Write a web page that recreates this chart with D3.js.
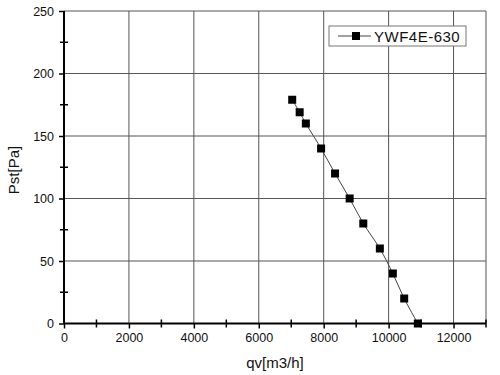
<!DOCTYPE html>
<html>
<head>
<meta charset="utf-8">
<script src="https://cdn.jsdelivr.net/npm/d3@7"></script>
<style>
  body { margin: 0; background: #fff; }
  svg text { font-family: "Liberation Sans", Arial, sans-serif; fill: #111; }
</style>
</head>
<body>
<svg width="500" height="375"></svg>
<script>
// fan curve points
const flow = [7030, 7260, 7450, 7920, 8350, 8800, 9220, 9730, 10130, 10480, 10900];
const pressure = [179, 169, 160, 140, 120, 100, 80, 60, 40, 20, 0];
const xTicks = [0, 2000, 4000, 6000, 8000, 10000, 12000];
const yTicks = [0, 50, 100, 150, 200, 250];
const seriesName = "YWF4E-630";

const svg = d3.select("svg");
const plotL = 64, plotR = 486, plotT = 11, plotB = 323.5;

const x = d3.scaleLinear().domain([0, 13000]).range([plotL, plotR]);
const y = d3.scaleLinear().domain([0, 250]).range([plotB, plotT]);

// grid
const grid = svg.append("g").attr("stroke", "#555").attr("stroke-width", 1);
grid.selectAll(".vg")
    .data(xTicks.filter(d => d > 0).concat([13000]))
    .enter().append("line")
    .attr("x1", d => x(d)).attr("x2", d => x(d))
    .attr("y1", plotT).attr("y2", plotB);
grid.selectAll(".hg")
    .data(yTicks.filter(d => d > 0))
    .enter().append("line")
    .attr("x1", plotL).attr("x2", plotR)
    .attr("y1", d => y(d)).attr("y2", d => y(d));

// axes
const xAxis = d3.axisBottom(x).tickValues(xTicks).tickFormat(d3.format("d")).tickSize(5).tickPadding(5);
const yAxis = d3.axisLeft(y).tickValues(yTicks).tickFormat(d3.format("d")).tickSize(5).tickPadding(5);

const gx = svg.append("g").attr("transform", `translate(0,${plotB})`).call(xAxis);
const gy = svg.append("g").attr("transform", `translate(${plotL},0)`).call(yAxis);
[gx, gy].forEach(g => {
    g.select(".domain").attr("stroke", "#000").attr("stroke-width", 2);
    g.selectAll(".tick line").attr("stroke", "#000").attr("stroke-width", 1.5);
    g.selectAll(".tick text").style("font-size", "12.5px").attr("fill", "#111");
});
gx.select(".domain").attr("d", `M${plotL},0H${plotR}`);
gy.select(".domain").attr("d", `M0,${plotB}V${plotT}`);

// minor ticks
svg.append("g").selectAll("line")
    .data(d3.range(1000, 13001, 2000))
    .enter().append("line")
    .attr("x1", d => x(d)).attr("x2", d => x(d))
    .attr("y1", plotB - 4).attr("y2", plotB + 4)
    .attr("stroke", "#000").attr("stroke-width", 1.5);
svg.append("g").selectAll("line")
    .data(d3.range(25, 250, 50))
    .enter().append("line")
    .attr("x1", plotL - 4).attr("x2", plotL + 4)
    .attr("y1", d => y(d)).attr("y2", d => y(d))
    .attr("stroke", "#000").attr("stroke-width", 1.5);

// axis titles
svg.append("text")
    .attr("x", 275).attr("y", 368)
    .attr("text-anchor", "middle")
    .style("font-size", "15px")
    .text("qv[m3/h]");
svg.append("text")
    .attr("transform", "translate(19,170) rotate(-90)")
    .attr("text-anchor", "middle")
    .style("font-size", "15px")
    .text("Pst[Pa]");

// curve
const pts = flow.map((f, i) => [f, pressure[i]]);
const line = d3.line()
    .x(d => x(d[0])).y(d => y(d[1]))
    .curve(d3.curveCatmullRom);
svg.append("path")
    .datum(pts)
    .attr("d", line)
    .attr("fill", "none")
    .attr("stroke", "#444")
    .attr("stroke-width", 1);

svg.selectAll(".pt")
    .data(pts)
    .enter().append("rect")
    .attr("class", "pt")
    .attr("x", d => x(d[0]) - 4).attr("y", d => y(d[1]) - 4)
    .attr("width", 8).attr("height", 8)
    .attr("fill", "#000");

// legend
const legend = svg.append("g").attr("transform", "translate(329,26)");
legend.append("rect")
    .attr("width", 137).attr("height", 20)
    .attr("fill", "#fff").attr("stroke", "#777").attr("stroke-width", 1);
legend.append("line")
    .attr("x1", 9).attr("x2", 42).attr("y1", 10).attr("y2", 10)
    .attr("stroke", "#444").attr("stroke-width", 1);
legend.append("rect")
    .attr("x", 23).attr("y", 6).attr("width", 8).attr("height", 8)
    .attr("fill", "#000");
legend.append("text")
    .attr("x", 45).attr("y", 16)
    .style("font-size", "15px")
    .style("letter-spacing", "0.5px")
    .text(seriesName);
</script>
</body>
</html>
